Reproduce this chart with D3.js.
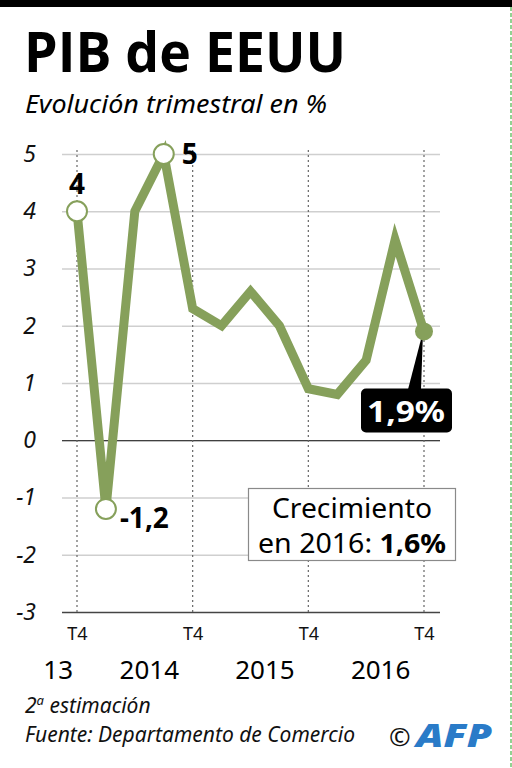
<!DOCTYPE html>
<html>
<head>
<meta charset="utf-8">
<script src="https://cdn.jsdelivr.net/npm/d3@7"></script>
<style>
  body { margin: 0; background: #fff; }
  svg { display: block; font-family: "Noto Sans", sans-serif; }
</style>
</head>
<body>
<div id="chart"></div>
<script>
// quarters from T4 2013 to T4 2016
var quarters = ["2013T4", "2014T1", "2014T2", "2014T3", "2014T4", "2015T1", "2015T2", "2015T3", "2015T4", "2016T1", "2016T2", "2016T3", "2016T4"];
var values = [4, -1.2, 4, 5, 2.3, 2.0, 2.6, 2.0, 0.9, 0.8, 1.4, 3.5, 1.9];
var yTicks = [-3, -2, -1, 0, 1, 2, 3, 4, 5];
var xTickQuarters = ["2013T4", "2014T4", "2015T4", "2016T4"];
var years = ["13", "2014", "2015", "2016"];
var openPoints = [
	{q: "2013T4", label: "4"},
	{q: "2014T1", label: "-1,2"},
	{q: "2014T3", label: "5"}
];

var width = 512;
var height = 768;
var green = "#86a05b";

var svg = d3.select('#chart')
	.append('svg')
	.attr('width', width)
	.attr('height', height);

var x = d3.scalePoint().domain(quarters).range([77, 424]);
var y = d3.scaleLinear().domain([-3, 5]).range([612, 154]);
var left = 62, right = 440;

// top black band
svg.append('rect').attr('x', 0).attr('y', 0).attr('width', width).attr('height', 7).attr('fill', '#000');
// green page edge
svg.append('line').attr('x1', 511).attr('x2', 511).attr('y1', 7).attr('y2', height)
	.attr('stroke', '#6fc46f').attr('stroke-width', 1.5).attr('stroke-dasharray', '4,2');

// title
svg.append('text').attr('x', 24).attr('y', 72)
	.style('font-family', '"Open Sans", sans-serif').style('font-weight', 700).style('font-size', '55px')
	.attr('textLength', 322).attr('lengthAdjust', 'spacingAndGlyphs')
	.text('PIB de EEUU');
svg.append('text').attr('x', 25).attr('y', 113)
	.style('font-style', 'italic').style('font-size', '25px')
	.attr('textLength', 302).attr('lengthAdjust', 'spacingAndGlyphs')
	.text('Evolución trimestral en %');

// y axis with grid
var yAxis = d3.axisLeft(y)
	.tickValues(yTicks)
	.tickSize(-(right - left))
	.tickPadding(26)
	.tickFormat(function(d) { return d; });

var gy = svg.append('g')
	.attr('transform', 'translate(' + left + ',0)')
	.call(yAxis);
gy.select('.domain').remove();
gy.selectAll('.tick line')
	.attr('stroke', function(d) { return d === 0 ? '#000' : (d === -3 ? '#444' : '#cfcfcf'); })
	.attr('stroke-width', function(d) { return d === 0 ? 1.2 : 1.6; });
gy.selectAll('.tick text')
	.attr('fill', '#111')
	.style('font-style', 'italic')
	.style('font-size', '23px')
	.style('font-family', '"Noto Sans", sans-serif');

// dotted T4 lines
svg.selectAll('.vline')
	.data(xTickQuarters)
	.enter()
	.append('line')
	.attr('class', 'vline')
	.attr('x1', function(d) { return x(d); })
	.attr('x2', function(d) { return x(d); })
	.attr('y1', y(5) - 4)
	.attr('y2', y(-3))
	.attr('stroke', '#666')
	.attr('stroke-width', 1.2)
	.attr('stroke-dasharray', '2,3');

// x axis labels
var xAxis = d3.axisBottom(x)
	.tickValues(xTickQuarters)
	.tickSize(0)
	.tickPadding(15)
	.tickFormat(function() { return 'T4'; });
var gx = svg.append('g')
	.attr('transform', 'translate(0,' + y(-3) + ')')
	.call(xAxis);
gx.select('.domain').remove();
gx.selectAll('.tick text')
	.attr('fill', '#111')
	.style('font-size', '18px')
	.style('font-family', '"Noto Sans", sans-serif');

var step = x.step();
svg.selectAll('.year')
	.data(years)
	.enter()
	.append('text')
	.attr('class', 'year')
	.attr('x', function(d, i) {
		if (i === 0) return x(xTickQuarters[0]) - step * 0.65;
		return x(xTickQuarters[i]) - step * 1.5;
	})
	.attr('y', 679)
	.attr('text-anchor', 'middle')
	.style('font-size', '26px')
	.text(function(d) { return d; });

// line
var line = d3.line()
	.x(function(d, i) { return x(quarters[i]); })
	.y(function(d) { return y(d); });

svg.append('path')
	.datum(values)
	.attr('d', line)
	.attr('fill', 'none')
	.attr('stroke', green)
	.attr('stroke-width', 9)
	.attr('stroke-linejoin', 'miter');

// open circles
openPoints.forEach(function(p) {
	var v = values[quarters.indexOf(p.q)];
	svg.append('circle')
		.attr('cx', x(p.q)).attr('cy', y(v)).attr('r', 10)
		.attr('fill', '#fff').attr('stroke', green).attr('stroke-width', 2);
});

// point labels
var lab = svg.append('g').style('font-weight', 700).style('font-size', '28px').attr('fill', '#000');
lab.append('text').attr('x', x('2013T4')).attr('y', y(4) - 17).attr('text-anchor', 'middle').text(openPoints[0].label);
lab.append('text').attr('x', x('2014T1') + 14).attr('y', y(-1.2) + 19).text(openPoints[1].label);
lab.append('text').attr('x', x('2014T3') + 18).attr('y', y(5) + 10).text(openPoints[2].label);

// last point
var lastQ = quarters[quarters.length - 1];
var lastV = values[values.length - 1];
var lx = x(lastQ), ly = y(lastV);
svg.append('path')
	.attr('d', 'M' + (lx - 1) + ',' + ly + 'L' + (lx - 16) + ',' + (ly + 58) + 'L' + (lx - 3) + ',' + (ly + 58) + 'Z')
	.attr('fill', '#000');
svg.append('circle').attr('cx', lx).attr('cy', ly).attr('r', 9).attr('fill', green);
svg.append('rect')
	.attr('x', 361).attr('y', ly + 57).attr('width', 91).attr('height', 44).attr('rx', 5)
	.attr('fill', '#000');
svg.append('text')
	.attr('x', 406).attr('y', ly + 91).attr('text-anchor', 'middle')
	.attr('fill', '#fff').style('font-weight', 700).style('font-size', '29px')
	.attr('textLength', 78).attr('lengthAdjust', 'spacingAndGlyphs')
	.text('1,9%');

// annotation box
svg.append('rect')
	.attr('x', 248.5).attr('y', 488.5).attr('width', 207).attr('height', 72)
	.attr('fill', '#fff').attr('stroke', '#8a8a8a').attr('stroke-width', 1.2);
svg.append('text').attr('x', 352).attr('y', 518).attr('text-anchor', 'middle')
	.style('font-size', '27px').attr('textLength', 160).attr('lengthAdjust', 'spacingAndGlyphs')
	.text('Crecimiento');
var t2 = svg.append('text').attr('x', 352).attr('y', 553).attr('text-anchor', 'middle').style('font-size', '27px')
	.attr('textLength', 188).attr('lengthAdjust', 'spacingAndGlyphs');
t2.append('tspan').text('en 2016: ');
t2.append('tspan').style('font-weight', 700).text('1,6%');

// footer
var foot = svg.append('g').style('font-style', 'italic').style('font-size', '21px').attr('fill', '#111');
var f1 = foot.append('text').attr('x', 25).attr('y', 713);
f1.append('tspan').text('2');
f1.append('tspan').attr('dy', -8).style('font-size', '13px').text('a');
f1.append('tspan').attr('dy', 8).text(' estimación');
foot.append('text').attr('x', 25).attr('y', 742)
	.attr('textLength', 330).attr('lengthAdjust', 'spacingAndGlyphs')
	.text('Fuente: Departamento de Comercio');

svg.append('text').attr('x', 389).attr('y', 746).style('font-size', '26px').attr('fill', '#111').text('©');
svg.append('text').attr('x', 416).attr('y', 747)
	.style('font-weight', 900).style('font-style', 'italic').style('font-size', '31px')
	.attr('fill', '#2a7bc8').attr('textLength', 76).attr('lengthAdjust', 'spacingAndGlyphs')
	.text('AFP');
</script>
</body>
</html>
